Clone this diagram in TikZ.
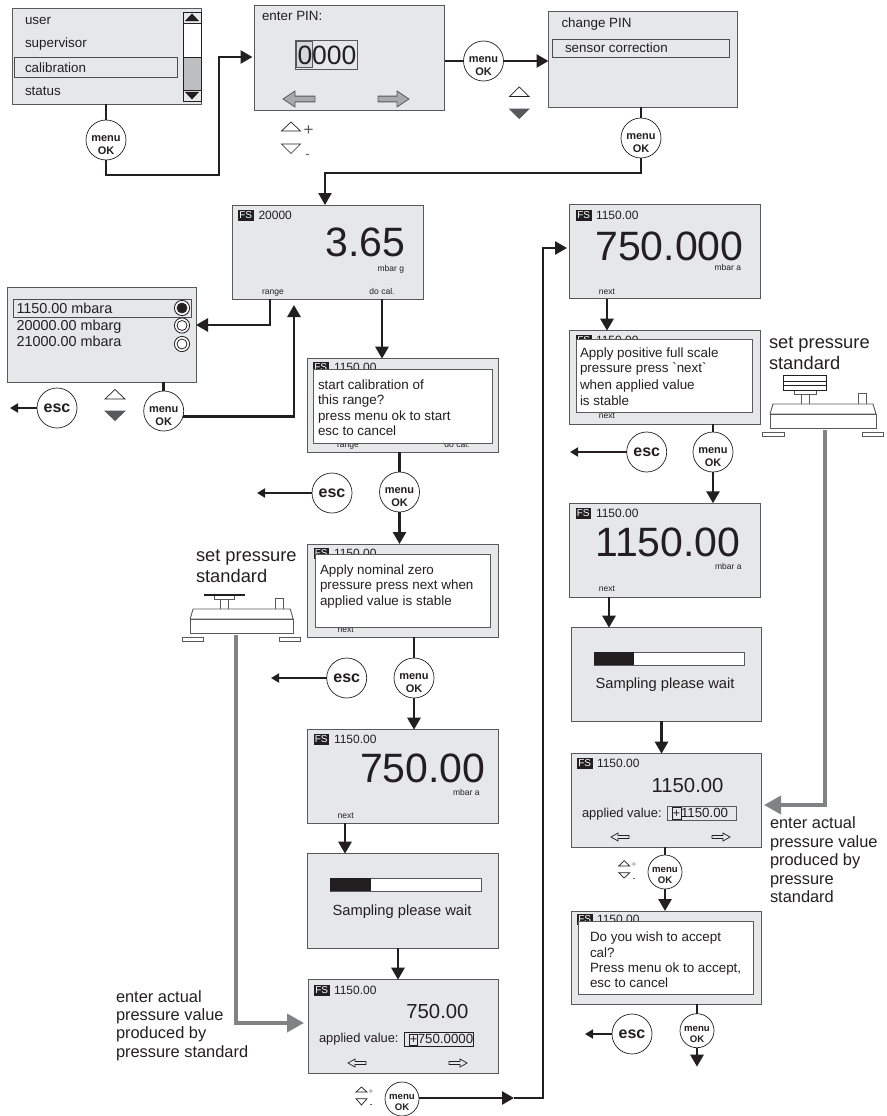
\documentclass[tikz,border=0pt]{standalone}
\usepackage{fontspec}
\setmainfont{Liberation Sans}
\newfontfamily\plainf{Liberation Sans}
\usetikzlibrary{arrows.meta,calc}
\definecolor{ink}{HTML}{231F20}
\definecolor{edge}{HTML}{58595B}
\definecolor{panel}{HTML}{E6E7E8}
\definecolor{midgray}{HTML}{808285}
\definecolor{arrowgray}{HTML}{A7A9AC}
\definecolor{scroll}{HTML}{BCBEC0}
\newcount\tcount
\newcommand\setfs[1]{\fontsize{#1}{#1}\selectfont}
% text at a baseline position, auto-named
\newcommand\T[4][]{\global\advance\tcount by 1 \node[txt,#1] (t\the\tcount) at (#2,#3) {#4};}
\newcommand\scrbox[6][screen]{%
  \pgfmathsetmacro\bw{#5-#3}\pgfmathsetmacro\bh{#6-#4}%
  \node[#1,minimum width=\bw pt,minimum height=\bh pt,anchor=north west] (#2) at (#3,#4) {};}
\newcommand\menubtn[4]{% name,x,y,r
  \pgfmathsetmacro\bd{2*#4}%
  \node[btn,minimum size=\bd pt] (#1) at (#2,#3) {};
  \ifdim #4pt<18pt
    \T[anchor=center,font=\bfseries\setfs{9.6},align=center]{#2}{#3+3.5}{menu\\[1.5pt]OK}
  \else
    \T[anchor=center,font=\bfseries\setfs{11},align=center]{#2}{#3+5}{menu\\[1.5pt]OK}
  \fi}
\newcommand\escbtn[3]{% name,x,y
  \node[btn,minimum size=40pt,font=\bfseries\setfs{16}] (#1) at (#2,#3) {esc};}
\newcommand\fsline[4]{% badge x, badge top y, text x, text
  \global\advance\tcount by 1
  \node[badge,anchor=north west] (t\the\tcount) at (#1,#2) {FS};
  \T[font=\setfs{12}]{#3}{#2+9.5}{#4}}
\newcommand\hollow[6]{% tip x, tail x, y, head half, style, head length (sign by direction)
  \pgfmathsetmacro\hx{#1+#6}%
  \filldraw[#5] (#1,#3) -- (\hx,#3-#4) -- (\hx,#3-#4*0.36) -- (#2,#3-#4*0.36) -- (#2,#3+#4*0.36) -- (\hx,#3+#4*0.36) -- (\hx,#3+#4) -- cycle;}
\newcommand\tri[5]{% x1,x2,ybase,yapex,style
  \filldraw[#5] (#1,#3) -- (#2,#3) -- ({(#1+#2)/2},#4) -- cycle;}
\newcommand\device{%
  \filldraw[dev] (794.5,390) rectangle (816,394);
  \filldraw[dev] (801.5,394) rectangle (809.5,404.5);
  \filldraw[dev] (858,393) rectangle (866,404.5);
  \filldraw[dev] (773,404) -- (873,404) -- (876,414) -- (770,414) -- cycle;
  \filldraw[dev] (770,414) rectangle (876,428);
  \filldraw[dev] (762.5,432.5) rectangle (784,436);
  \filldraw[dev] (862,432.5) rectangle (883.5,436);}
\tikzset{
  x=1pt,y=-1pt,
  txt/.style={inner sep=0,outer sep=0,anchor=base west,text=ink,font=\setfs{13.4}},
  screen/.style={draw=edge,line width=1pt,fill=panel,inner sep=0,outer sep=0},
  popup/.style={draw=edge,line width=1pt,fill=white,inner sep=0,outer sep=0},
  hilite/.style={draw=ink!80,line width=1pt,fill=panel,inner sep=0,outer sep=0},
  btn/.style={circle,draw=ink,line width=.7pt,fill=white,inner sep=0,outer sep=0,text=ink},
  badge/.style={fill=ink,text=white,font=\setfs{10},inner sep=0,minimum width=15.5pt,minimum height=11pt,outer sep=0},
  flow/.style={draw=ink,line width=2.7pt,-{Triangle[length=12pt,width=13pt]}},
  plainflow/.style={draw=ink,line width=2.5pt},
  escflow/.style={draw=ink,line width=1.8pt,-{Triangle[length=8pt,width=9pt]}},
  graylink/.style={draw=midgray,line width=3.6pt,-{Triangle[length=17pt,width=18pt]}},
  dev/.style={draw=edge,line width=.9pt,fill=white},
  small/.style={font=\setfs{8.5}},
  big/.style={font=\setfs{41},anchor=base east},
  mid/.style={font=\setfs{20.3},anchor=base east},
  bigarrow/.style={draw=edge,line width=.8pt,fill=arrowgray},
  thinarrow/.style={draw=ink,line width=.7pt,fill=panel},
  triopen/.style={draw=ink,line width=.7pt,fill=white},
  tridark/.style={draw=edge,line width=.7pt,fill=edge},
}
\begin{document}
\begin{tikzpicture}
\useasboundingbox (0,0) rectangle (886,1116);
% ---------- top row
\scrbox{b1}{12}{9}{201}{104}
\filldraw[draw=ink,line width=.8pt,fill=white] (183,12) rectangle (201,101);
\filldraw[draw=ink,line width=.8pt,fill=scroll] (183,57) rectangle (201,90);
\filldraw[draw=ink,line width=.8pt,fill=panel] (183,12) rectangle (201,23);
\filldraw[draw=ink,line width=.8pt,fill=panel] (183,90) rectangle (201,101);
\tri{185.5}{198.5}{21}{14}{fill=ink}
\tri{185.5}{198.5}{92}{99}{fill=ink}
\scrbox[hilite]{calbar}{14.5}{58}{177.5}{77}
\T{25}{25}{user}
\T{25}{48}{supervisor}
\T{25}{72}{calibration}
\T{25}{95.5}{status}
\scrbox{b2}{254}{5.5}{444.5}{110}
\T{262}{21}{enter PIN:}
\filldraw[draw=edge,line width=.9pt,fill=panel] (295,40) rectangle (357,69);
\filldraw[draw=edge,line width=.9pt,fill=scroll!60] (296,41.5) rectangle (312,67.5);
\T[font=\setfs{26.5}]{297.5}{64}{0000}
\hollow{283}{315}{99}{8}{bigarrow}{12}
\hollow{409}{378}{99}{8}{bigarrow}{-12}
\tri{281.5}{300.5}{131}{122}{triopen}
\tri{281.5}{300.5}{144}{153.5}{triopen}
\T[anchor=base,font=\setfs{17},text=edge]{308.5}{135}{+}
\T[anchor=base,font=\setfs{13},text=edge]{307.5}{158}{-}
\scrbox{b3}{548.5}{12}{737}{107}
\T{561.5}{28}{change PIN}
\scrbox[hilite]{sensbar}{552.5}{39.5}{729}{58}
\T{565}{52.5}{sensor correction}
\tri{509.5}{529}{96.5}{87}{triopen}
\tri{509.5}{529}{109}{118.5}{tridark}
\menubtn{m1}{106}{140}{20}
\menubtn{m2}{483.5}{61}{20}
\menubtn{m3}{641}{138}{20}
% ---------- FS 20000
\scrbox{b4}{232.7}{205}{423}{299}
\fsline{238}{209.5}{258.5}{20000}
\T[big]{405.5}{256.5}{3.65}
\T[small,anchor=base east]{404}{271}{mbar g}
\T[small,anchor=base]{273}{294}{range}
\T[small,anchor=base]{382}{294}{do cal.}
% ---------- range box
\scrbox{rb}{7}{287}{196}{382}
\scrbox[hilite]{rbar}{13.5}{299.5}{191}{317}
\T[font=\setfs{14.4}]{16.5}{313}{1150.00 mbara}
\T[font=\setfs{14.4}]{16.5}{330}{20000.00 mbarg}
\T[font=\setfs{14.4}]{16.5}{346}{21000.00 mbara}
\foreach \yy in {308,325.5,344}{
  \filldraw[draw=ink,line width=.8pt,fill=white] (182,\yy) circle (7.6pt);
  \draw[ink,line width=.8pt] (182,\yy) circle (5pt);}
\fill[ink] (182,308) circle (4.8pt);
\escbtn{e1}{57}{408}
\tri{105}{125}{399}{389.5}{triopen}
\tri{105}{125}{411}{420.5}{tridark}
\menubtn{m4}{163.7}{411}{20}
% ---------- start calibration
\scrbox{b5}{307.7}{358.7}{498}{452}
\fsline{313}{362}{334}{1150.00}
\T[small,anchor=base]{348}{447}{range}
\T[small,anchor=base]{457}{447}{do cal.}
\scrbox[popup]{p5}{313.5}{369.5}{492}{443}
\T{318}{389.3}{start calibration of}
\T{318}{404.5}{this range?}
\T{318}{420}{press menu ok to start}
\T{318}{435.5}{esc to cancel}
\escbtn{e2}{332}{493}
\menubtn{m5}{399.5}{492}{20}
% ---------- nominal zero
\scrbox{b6}{307.7}{544}{498}{637}
\fsline{313.5}{547.5}{334}{1150.00}
\T[small,anchor=base]{345.7}{632}{next}
\scrbox[popup]{p6}{315.7}{554.3}{490.7}{627.7}
\T{320}{574}{Apply nominal zero}
\T{320}{589.3}{pressure press next when}
\T{320}{605}{applied value is stable}
\escbtn{e3}{346.7}{678}
\menubtn{m6}{414}{678}{20}
% ---------- 750.00
\scrbox{b7}{307.7}{729.7}{498}{823}
\fsline{313.5}{734}{334}{1150.00}
\T[big]{485.5}{782.7}{750.00}
\T[small,anchor=base east]{479.5}{795}{mbar a}
\T[small,anchor=base]{345.7}{818}{next}
% ---------- sampling left
\scrbox{b8}{307.7}{853.7}{498.7}{948}
\filldraw[draw=edge,line width=.8pt,fill=white] (330,878) rectangle (481,891);
\fill[ink] (330,878) rectangle (371,891);
\T[anchor=base,font=\setfs{14.7}]{402}{915}{Sampling please wait}
% ---------- applied value left
\scrbox{b9}{308}{979.7}{498.7}{1073.5}
\fsline{314}{985}{334}{1150.00}
\T[mid]{468.5}{1018}{750.00}
\T[font=\setfs{12.9}]{319}{1042.7}{applied value:}
\draw[ink,line width=.9pt] (404,1032.7) rectangle (473,1046);
\draw[ink,line width=.9pt] (409.3,1034) rectangle (417.5,1045.5);
\T[anchor=base,font=\setfs{12.5}]{413.4}{1043.3}{+}
\T[font=\setfs{13.3}]{417.8}{1043.3}{750.0000}
\hollow{348}{366}{1063}{4}{thinarrow}{7}
\hollow{467}{449}{1063}{4}{thinarrow}{-7}
\tri{356}{367}{1092}{1087}{triopen}
\tri{356}{367}{1098.7}{1105}{triopen}
\T[anchor=base,font=\setfs{9},text=midgray]{371}{1094}{+}
\T[anchor=base,font=\setfs{9},text=ink]{371}{1107}{-}
\menubtn{m9}{402}{1099}{17}
% ---------- left annotations
\T[font=\setfs{16.4}]{116}{1002.5}{enter actual}
\T[font=\setfs{16.4}]{116}{1020.5}{pressure value}
\T[font=\setfs{16.4}]{116}{1038.5}{produced by}
\T[font=\setfs{16.4}]{116}{1057.5}{pressure standard}
\T[font=\setfs{18.3}]{196}{561.5}{set pressure}
\T[font=\setfs{18.3}]{196}{582}{standard}
\begin{scope}[shift={(-558.3,205)},xscale=.972]
  \device
  \draw[ink,line width=1.6pt] (784,390) -- (826,390);
\end{scope}
\coordinate (gL) at (236,635);
% ---------- right column
\scrbox{r1}{569.3}{204.7}{760}{298.7}
\fsline{576}{210}{596}{1150.00}
\T[big]{743.5}{260}{750.000}
\T[small,anchor=base east]{741}{270.7}{mbar a}
\T[small,anchor=base]{607}{294}{next}
\scrbox{r2}{569.3}{330.7}{760}{424}
\fsline{576}{335}{596}{1150.00}
\T[small,anchor=base]{607}{418.7}{next}
\scrbox[popup]{pr2}{576}{339.5}{752}{412.5}
\T{580}{357}{Apply positive full scale}
\T{580}{372.5}{pressure press {\plainf `next`}}
\T{580}{389}{when applied value}
\T{580}{405}{is stable}
\escbtn{e4}{646.7}{452}
\menubtn{m7}{713}{452}{20}
\T[font=\setfs{18.3}]{769}{348.5}{set pressure}
\T[font=\setfs{18.3}]{769}{369}{standard}
\device
\foreach \ya/\yb in {375/381,381/385.5,385.5/390}{
  \filldraw[draw=ink,line width=.9pt,fill=white] (783.5,\ya) rectangle (826,\yb);}
\coordinate (gR) at (825,430);
\scrbox{r3}{569.3}{503.3}{760}{597}
\fsline{575.5}{508}{596}{1150.00}
\T[big]{740.5}{556}{1150.00}
\T[small,anchor=base east]{741.5}{569}{mbar a}
\T[small,anchor=base]{607}{591.7}{next}
\scrbox{r4}{571.3}{627.7}{761.7}{721}
\filldraw[draw=edge,line width=.8pt,fill=white] (594,652) rectangle (744,665);
\fill[ink] (594,652) rectangle (634,665);
\T[anchor=base,font=\setfs{14.7}]{665}{688}{Sampling please wait}
\scrbox{r5}{571}{753.7}{761.7}{847}
\fsline{577}{758}{597}{1150.00}
\T[mid]{723.5}{792}{1150.00}
\T[font=\setfs{12.9}]{582}{817}{applied value:}
\draw[edge,line width=.9pt] (667.3,806) rectangle (736,820);
\draw[ink,line width=.9pt] (672,807) rectangle (681,819.5);
\T[anchor=base,font=\setfs{12.5}]{676.5}{817.5}{+}
\T[font=\setfs{13.3}]{681}{817.5}{1150.00}
\hollow{611}{629}{837}{4}{thinarrow}{7}
\hollow{730}{712}{837}{4}{thinarrow}{-7}
\tri{618.7}{629.7}{866}{860.7}{triopen}
\tri{618.7}{629.7}{872.7}{878}{triopen}
\T[anchor=base,font=\setfs{9},text=midgray]{634}{867}{+}
\T[anchor=base,font=\setfs{9},text=ink]{634}{881}{-}
\menubtn{m8}{665}{872}{17}
\scrbox{r6}{571}{911}{761.7}{1004}
\fsline{577}{914}{597}{1150.00}
\scrbox[popup]{pr6}{578}{921}{753}{994.5}
\T{590}{941.7}{Do you wish to accept}
\T{590}{957}{cal?}
\T{590}{972}{Press menu ok to accept,}
\T{590}{987}{esc to cancel}
\escbtn{e5}{632}{1034}
\menubtn{m10}{697}{1030.7}{17}
\T[font=\setfs{16.4}]{770}{828}{enter actual}
\T[font=\setfs{16.4}]{770}{847}{pressure value}
\T[font=\setfs{16.4}]{770}{865}{produced by}
\T[font=\setfs{16.4}]{770}{884.5}{pressure}
\T[font=\setfs{16.4}]{770}{902}{standard}
% ---------- connector way-points
\coordinate (w1) at (219,175);
\coordinate (a1) at (252.5,57);
\coordinate (w3) at (325,173);
\coordinate (w4) at (270,325);
\coordinate (a5) at (294,305);
\coordinate (w5) at (382,299);
\coordinate (t1) at (10,408);
\coordinate (t2) at (257,493);
\coordinate (t3) at (271,678);
\coordinate (t4) at (570,452);
\coordinate (t5) at (585,1034);
\coordinate (wb) at (514,1098);
\coordinate (wc) at (543,1098);
\coordinate (a9) at (567,248);
\coordinate (wL) at (236,1023);
\coordinate (aL) at (304,1023);
\coordinate (wR) at (825,805);
\coordinate (aR) at (764,805);
% ---------- connectors
\draw[plainflow] (m1 |- b1.south) -- (m1.north);
\draw[flow] (m1.south) |- (w1) |- (a1);
\draw[plainflow] (b2.east |- m2) -- (m2.west);
\draw[flow] (m2.east) -- (b3.west |- m2);
\draw[plainflow] (m3 |- b3.south) -- (m3.north);
\draw[flow,line width=2.3pt] (m3.south) |- (w3) -- (w3 |- b4.north);
\draw[flow] (w4 |- b4.south) -- (w4) -- (w4 -| rb.east);
\draw[plainflow] (m4 |- rb.south) -- (m4.north);
\draw[flow] (m4.-15) -| (a5);
\draw[flow] (w5) -- (w5 |- b5.north);
\draw[plainflow] (m5 |- b5.south) -- (m5.north);
\draw[flow] (m5.south) -- (m5 |- b6.north);
\draw[plainflow] (m6 |- b6.south) -- (m6.north);
\draw[flow] (m6.south) -- (m6 |- b7.north);
\coordinate (c78) at (345,0);
\draw[flow] (c78 |- b7.south) -- (c78 |- b8.north);
\coordinate (c89) at (398,0);
\draw[flow] (c89 |- b8.south) -- (c89 |- b9.north);
\draw[flow] (m9.east |- wb) -- (wb);
\draw[flow,line width=2.3pt] (wb) -- (wc) |- (a9);
\coordinate (cr12) at (607,0);
\draw[flow] (cr12 |- r1.south) -- (cr12 |- r2.north);
\draw[plainflow] (m7 |- r2.south) -- (m7.north);
\draw[flow] (m7.south) -- (m7 |- r3.north);
\coordinate (cr34) at (609,0);
\draw[flow] (cr34 |- r3.south) -- (cr34 |- r4.north);
\coordinate (cr45) at (661.5,0);
\draw[flow] (cr45 |- r4.south) -- (cr45 |- r5.north);
\draw[plainflow] (m8 |- r5.south) -- (m8.north);
\draw[flow] (m8.south) -- (m8 |- r6.north);
\draw[plainflow] (m10 |- r6.south) -- (m10.north);
\draw[flow] (m10.south) -- +(0,19);
\draw[escflow] (e1.west) -- (t1);
\draw[escflow] (e2.west) -- (t2);
\draw[escflow] (e3.west) -- (t3);
\draw[escflow] (e4.west) -- (t4);
\draw[escflow] (e5.west) -- (t5);
\draw[graylink] (gL) -- (wL) -- (aL);
\draw[graylink] (gR) -- (wR) -- (aR);
\end{tikzpicture}
\end{document}
